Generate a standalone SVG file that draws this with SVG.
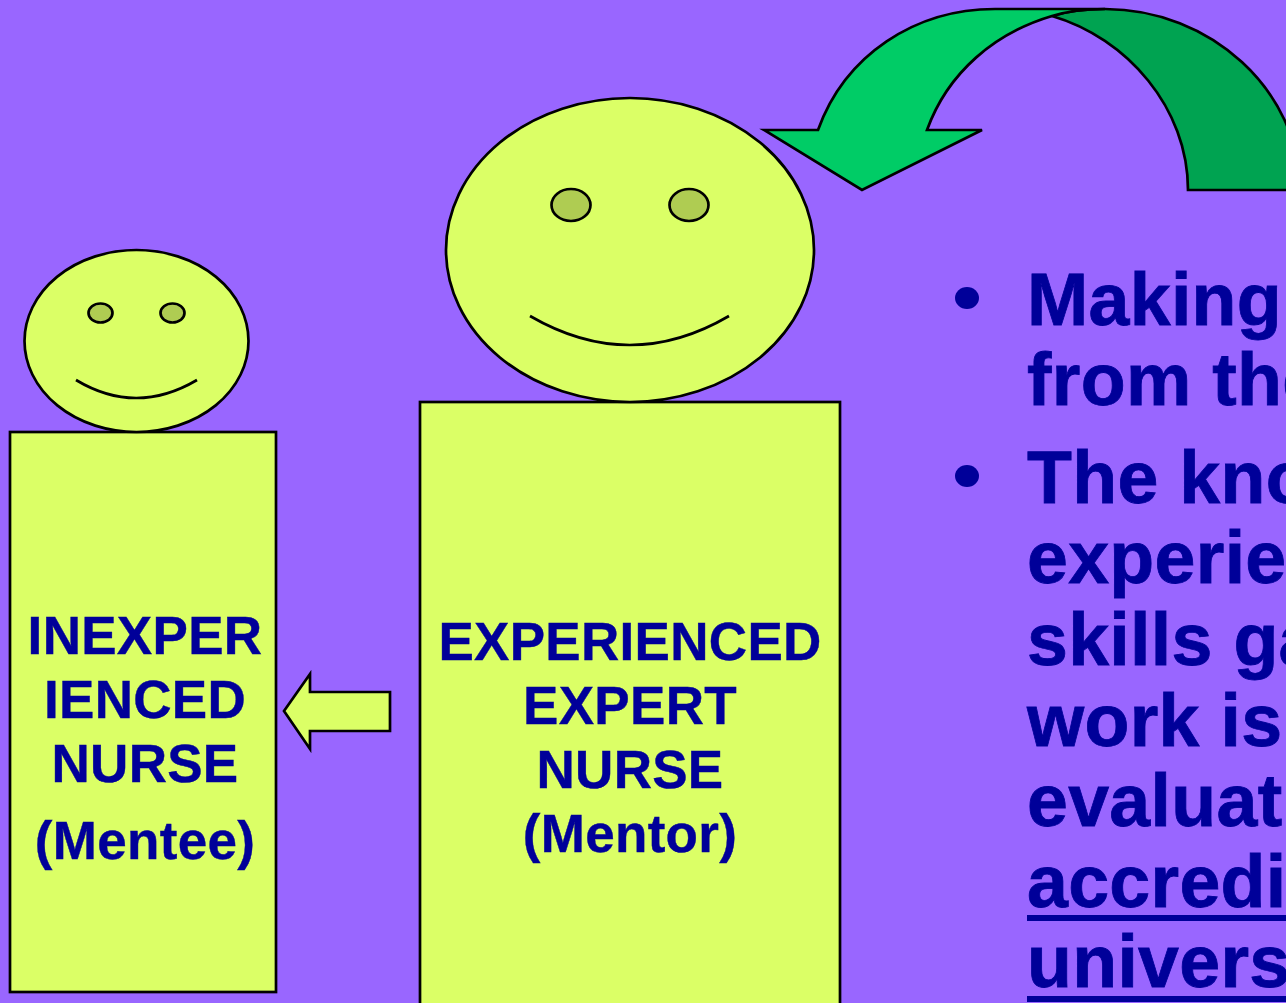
<svg xmlns="http://www.w3.org/2000/svg" width="1286" height="1003" viewBox="0 0 1286 1003">
<style>
.s{stroke:#000;stroke-width:2.700;stroke-linejoin:miter}
.y{fill:#DBFF66}
.e{fill:#AFCC52}
.n{fill:none}
text{font-family:"Liberation Sans",Arial,sans-serif;font-weight:700;fill:#000099;stroke:#000099}
.l{font-size:53px;text-anchor:middle;stroke-width:.4;letter-spacing:.3px}
.b{font-size:73.500px;stroke-width:.8;letter-spacing:.3px}
.u{fill:#000099}
</style>
<rect width="1286" height="1003" fill="#9966FF"/>
<g id="curved-arrow">
<path class="s" fill="#00A351" d="M1052 16C1127 38 1188 108 1188 190H1300V190C1300 90 1210 9 1105 9C1085 9 1068 11 1052 16Z"/>
<path class="s" fill="#00CC66" d="M764 130H818C845 55 915 9 995 9H1105C1085 9 1068 11 1052 16C995 33 948 72 927 130H982L862 190Z"/>
</g>
<g id="mentee">
<rect class="s y" x="10" y="432" width="266" height="560"/>
<ellipse class="s y" cx="136.500" cy="341" rx="112" ry="91"/>
<ellipse class="s e" cx="100.500" cy="313" rx="12" ry="9.500"/>
<ellipse class="s e" cx="172.500" cy="313" rx="12" ry="9.500"/>
<path class="s n" d="M76 380Q136 416 197 380"/>
<text class="l" x="145" y="654">INEXPER</text>
<text class="l" x="145" y="718">IENCED</text>
<text class="l" x="145" y="782">NURSE</text>
<text class="l" x="145" y="859">(Mentee)</text>
</g>
<g id="mentor">
<rect class="s y" x="420" y="402" width="420" height="620"/>
<ellipse class="s y" cx="630" cy="250" rx="184" ry="152"/>
<ellipse class="s e" cx="571" cy="205" rx="19.500" ry="16"/>
<ellipse class="s e" cx="689" cy="205" rx="19.500" ry="16"/>
<path class="s n" d="M530 316Q630 374 729 316"/>
<text class="l" x="630" y="660">EXPERIENCED</text>
<text class="l" x="630" y="724">EXPERT</text>
<text class="l" x="630" y="788">NURSE</text>
<text class="l" x="630" y="852">(Mentor)</text>
</g>
<g id="connectors">
<path class="s y" d="M284 711L310 674V692H390V731H310V749Z"/>
</g>
<g id="bullets">
<ellipse class="u" cx="967" cy="298" rx="12" ry="11"/>
<ellipse class="u" cx="967" cy="476" rx="12" ry="11"/>
<text class="b" x="1027" y="325">Making</text>
<text class="b" x="1027" y="405">from the</text>
<text class="b" x="1027" y="503">The kno</text>
<text class="b" x="1027" y="583">experie</text>
<text class="b" x="1027" y="665">skills ga</text>
<text class="b" x="1027" y="746">work is</text>
<text class="b" x="1027" y="826">evaluat</text>
<text class="b" x="1027" y="907">accredi</text>
<text class="b" x="1027" y="987">univers</text>
<rect class="u" x="1027" y="915" width="259" height="6"/>
<rect class="u" x="1027" y="996" width="259" height="6"/>
</g>
</svg>
